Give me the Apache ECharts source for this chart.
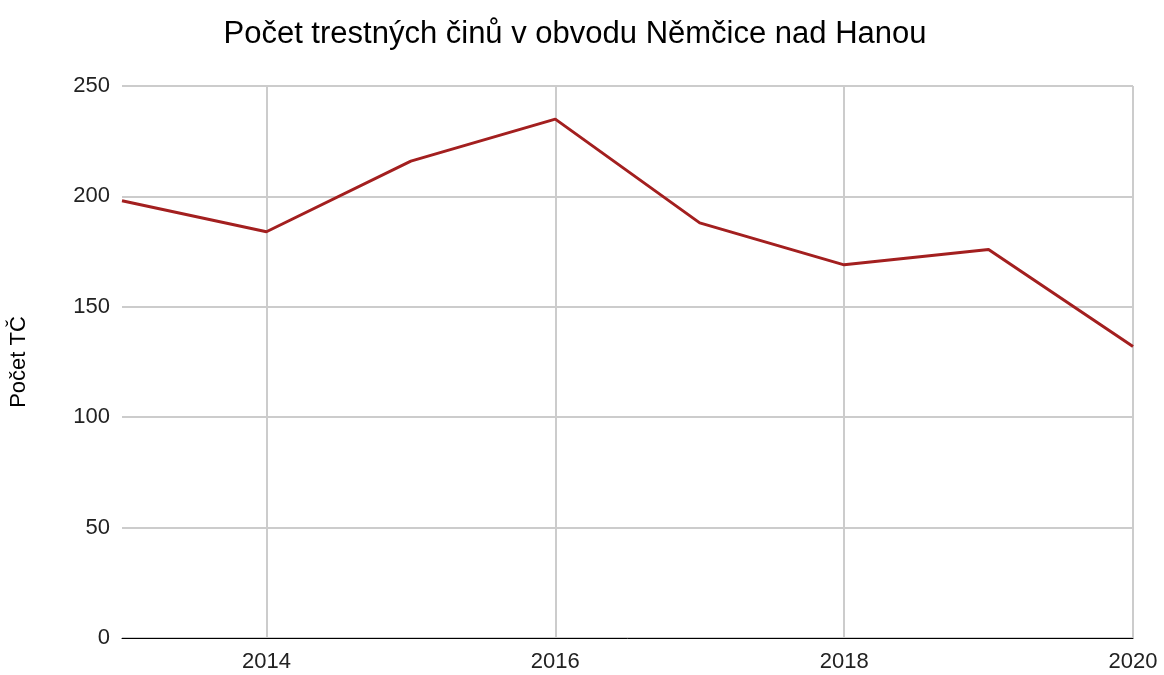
<!DOCTYPE html>
<html>
<head>
    <meta charset="utf-8">
    <title>Počet trestných činů</title>
    <script src="https://cdn.jsdelivr.net/npm/echarts@6/dist/echarts.min.js"></script>
    <style>
        html, body { margin: 0; padding: 0; background: #fff; }
        #container { width: 1164px; height: 675px; }
    </style>
</head>
<body>
<div id="container"></div>
<script type="text/javascript">
    var years = ['2013', '2014', '2015', '2016', '2017', '2018', '2019', '2020'];
    var crimes = [198, 184, 216, 235, 188, 169, 176, 132];
    var yTicks = [0, 50, 100, 150, 200, 250];

    var myChart = echarts.init(document.getElementById('container'));

    // popisky jen u sudých let
    function everyOther(index) {
        return index % 2 === 1;
    }

    var option = {
        animation: false,
        textStyle: { fontFamily: 'Liberation Sans, Arial, sans-serif' },
        title: {
            text: 'Počet trestných činů v obvodu Němčice nad Hanou',
            left: 570,
            top: 14,
            textAlign: 'center',
            textStyle: { fontSize: 31, fontWeight: 'normal', color: '#000' }
        },
        grid: {
            left: 122,
            right: 31,
            top: 86,
            bottom: 37
        },
        xAxis: {
            type: 'category',
            boundaryGap: false,
            data: years,
            axisLine: { lineStyle: { color: '#000', width: 1 } },
            axisTick: { show: false },
            axisLabel: {
                interval: everyOther,
                color: '#222',
                fontSize: 22,
                margin: 13
            },
            splitLine: {
                show: true,
                interval: everyOther,
                lineStyle: { color: '#ccc', width: 2 }
            }
        },
        yAxis: {
            type: 'value',
            min: yTicks[0],
            max: yTicks[yTicks.length - 1],
            interval: 50,
            name: 'Počet TČ',
            nameLocation: 'middle',
            nameGap: 92,
            nameTextStyle: { fontSize: 22, color: '#000' },
            axisLine: { show: false },
            axisTick: { show: false },
            axisLabel: { color: '#222', fontSize: 22, margin: 12 },
            splitLine: { lineStyle: { color: '#ccc', width: 2 } }
        },
        series: [
            {
                name: 'Počet TČ',
                type: 'line',
                data: crimes,
                symbol: 'none',
                lineStyle: { color: '#a31f1f', width: 3 }
            }
        ]
    };

    myChart.setOption(option, true);
</script>
</body>
</html>
